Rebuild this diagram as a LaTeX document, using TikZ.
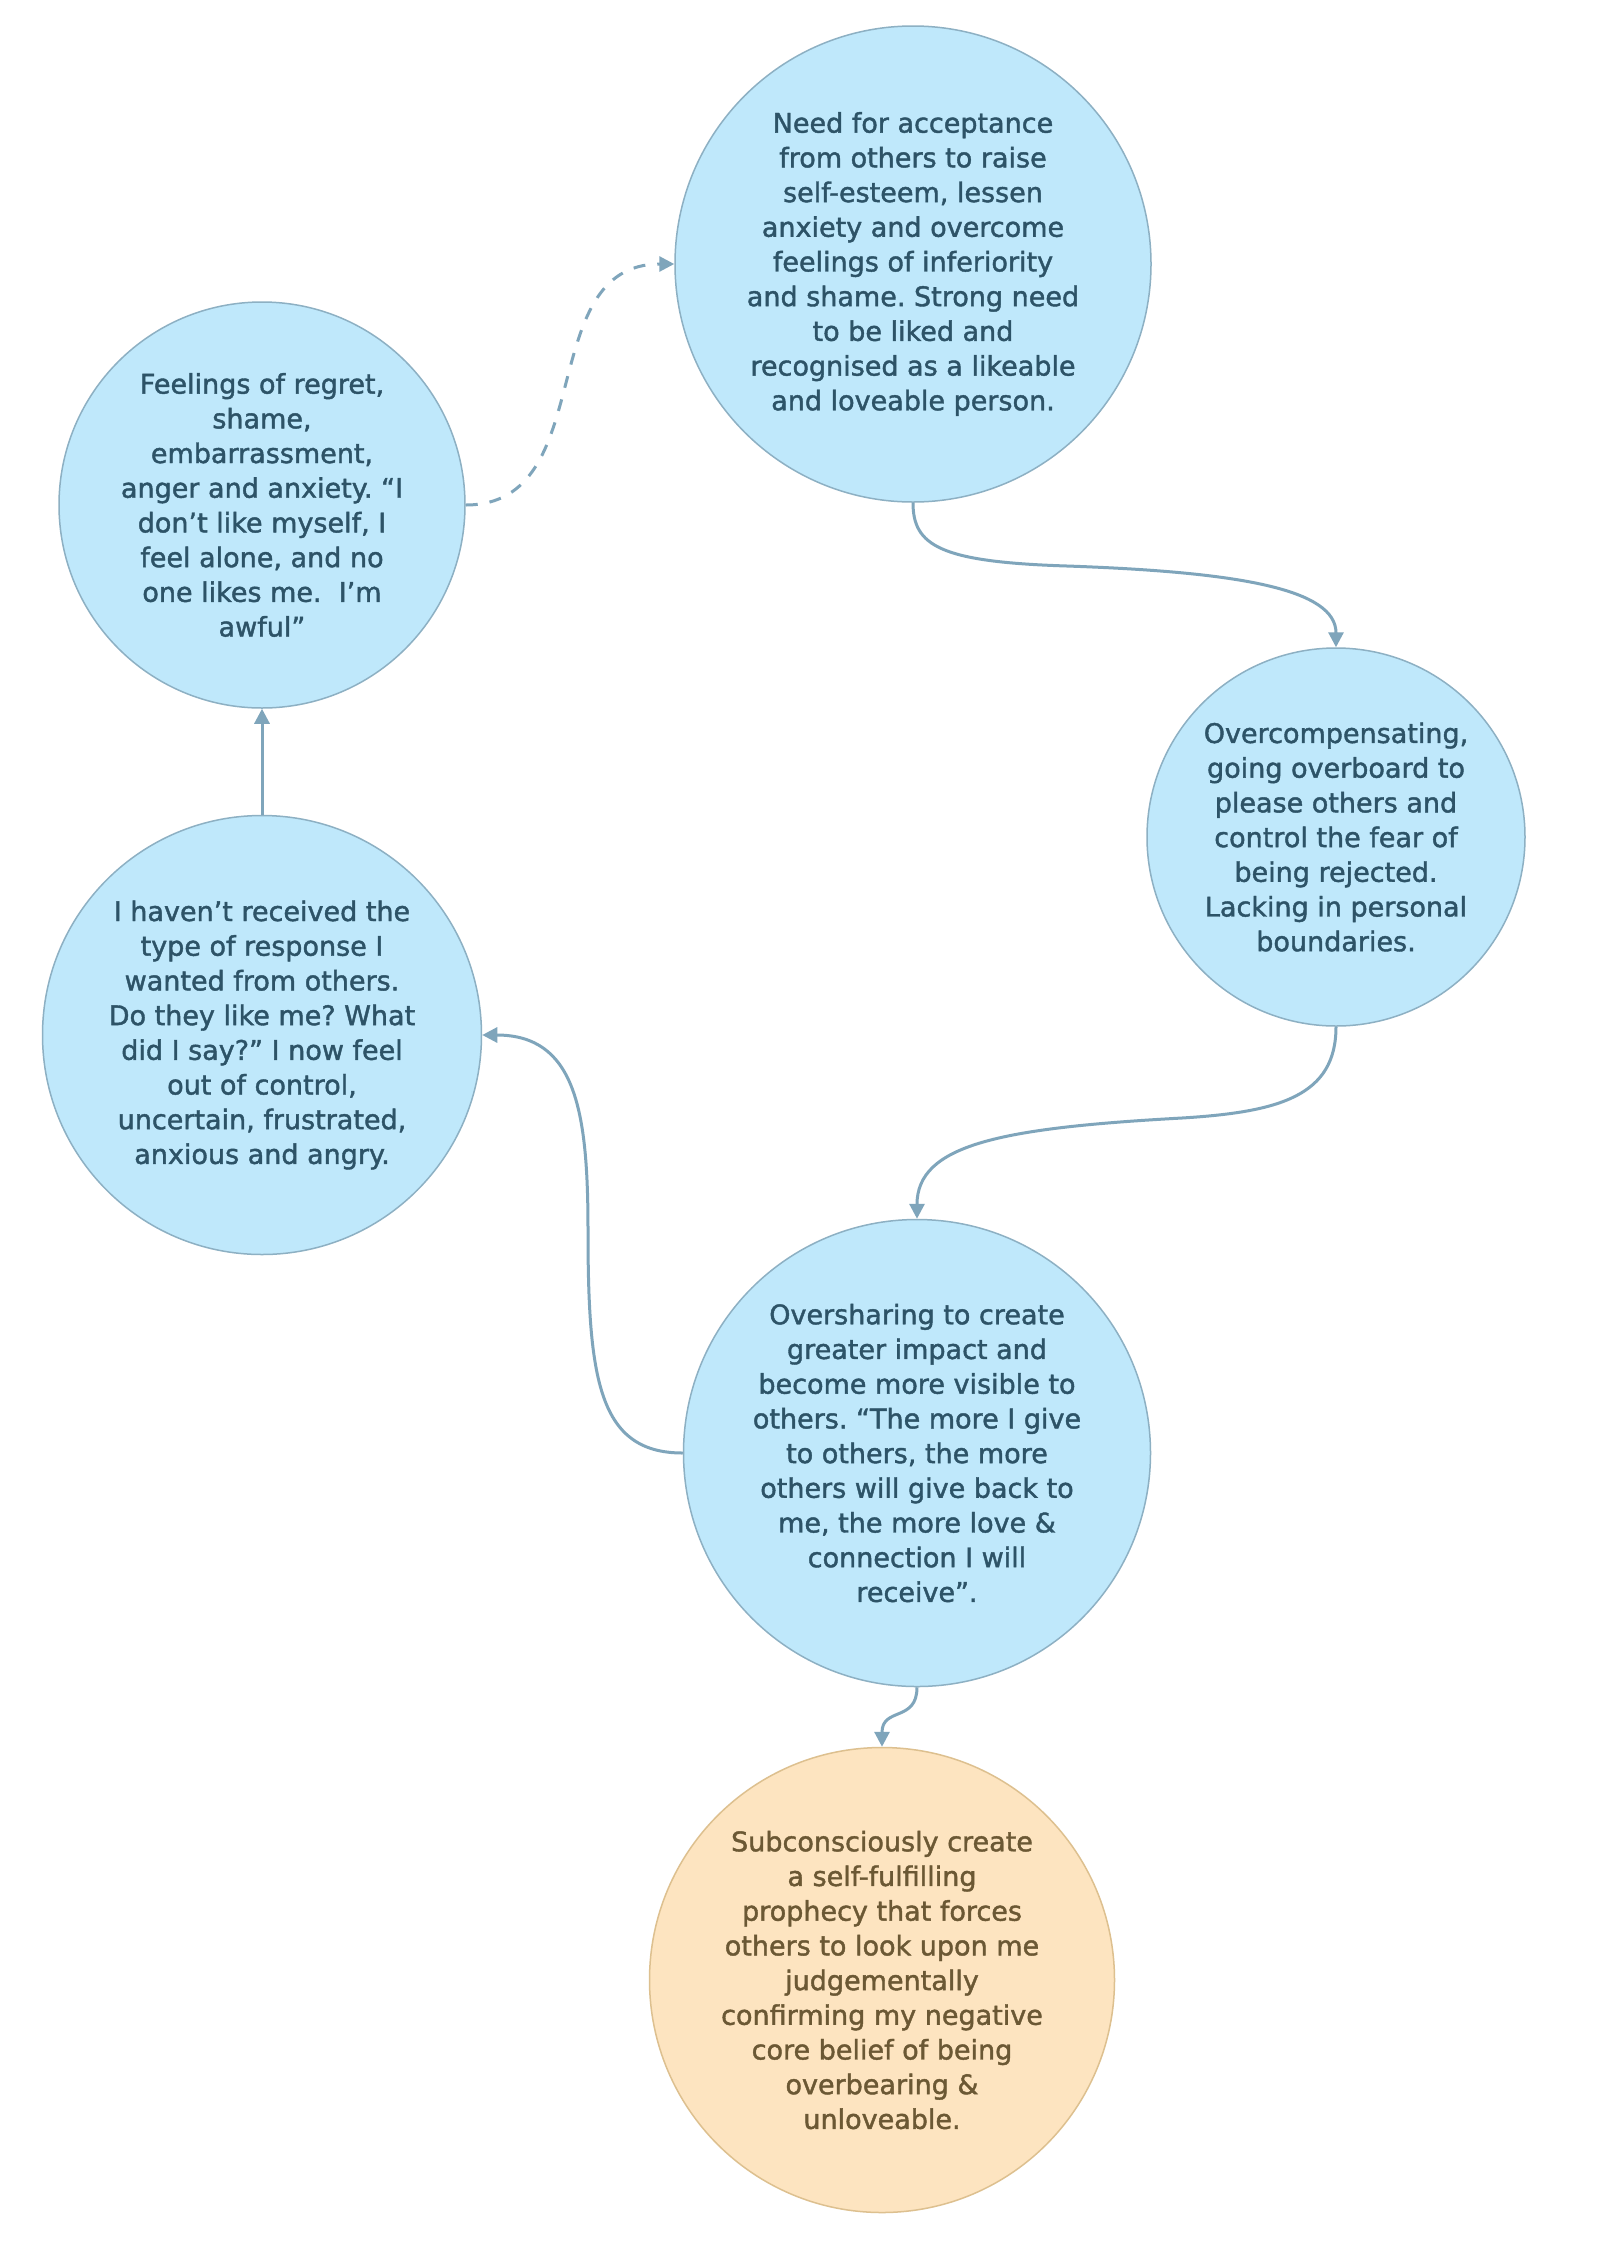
\documentclass[tikz,border=0pt]{standalone}
\usepackage{fontspec}
\setmainfont{DejaVu Sans}[FakeBold=1.5]
\usetikzlibrary{arrows.meta}
\definecolor{bfill}{HTML}{BFE8FB}
\definecolor{bdraw}{HTML}{8DB0C3}
\definecolor{btext}{HTML}{2D5367}
\definecolor{ofill}{HTML}{FDE4C0}
\definecolor{odraw}{HTML}{DDC08F}
\definecolor{otext}{HTML}{6B5834}
\definecolor{linkc}{HTML}{7FA5BB}
\tikzset{
  bubble/.style={circle, draw=bdraw, line width=1.5pt, fill=bfill, text=btext,
    align=center, inner sep=0pt, font=\fontsize{27}{34.7}\selectfont},
  obubble/.style={bubble, draw=odraw, fill=ofill, text=otext},
  linkline/.style={draw=linkc, line width=3pt, -{Triangle[length=15pt,width=15pt]}},
}
\frenchspacing
\begin{document}
\begin{tikzpicture}[x=1pt,y=-1pt]
\useasboundingbox (0,0) rectangle (1600,2260);
\fill[white] (0,0) rectangle (1600,2260);

\node[bubble, minimum size=476pt] (need) at (913,264)
 {Need for acceptance\\from others to raise\\self-esteem, lessen\\anxiety and overcome\\feelings of inferiority\\and shame. Strong need\\to be liked and\\recognised as a likeable\\and loveable person.};
\node[bubble, minimum size=406pt] (regret) at (262,505)
 {Feelings of regret,\\shame,\\embarrassment,\\anger and anxiety. “I\\don’t like myself, I\\feel alone, and no\\one likes me.\ \ I’m\\awful”};
\node[bubble, minimum size=378pt] (comp) at (1336,837)
 {Overcompensating,\\going overboard to\\please others and\\control the fear of\\being rejected.\\Lacking in personal\\boundaries.};
\node[bubble, minimum size=439pt] (hav) at (262,1035)
 {I haven’t received the\\type of response I\\wanted from others.\\Do they like me? What\\did I say?” I now feel\\out of control,\\uncertain, frustrated,\\anxious and angry.};
\node[bubble, minimum size=467pt] (share) at (917,1453)
 {Oversharing to create\\greater impact and\\become more visible to\\others. “The more I give\\to others, the more\\others will give back to\\me, the more love \&\\connection I will\\receive”.};
\node[obubble, minimum size=465pt] (sub) at (882,1980)
 {Subconsciously create\\a self-fulfilling\\prophecy that forces\\others to look upon me\\judgementally\\confirming my negative\\core belief of being\\overbearing \&\\unloveable.};

% dashed: regret -> need
\draw[linkline, dash pattern=on 12pt off 12pt]
  (regret.east) .. controls +(135,0) and +(-142,0) .. (need.west);
% need -> comp
\draw[linkline]
  (need.south) .. controls +(0,43) and (940,562) .. (1067,566)
  .. controls (1240,572) and +(0,-58) .. (comp.north);
% comp -> share
\draw[linkline]
  (comp.south) .. controls +(0,69) and (1280,1112) .. (1182,1118)
  .. controls (1000,1128) and +(0,-74) .. (share.north);
% share -> hav
\draw[linkline]
  (share.west) .. controls +(-84,0) and (588,1380) .. (588,1230)
  .. controls (588,1110) and +(93,0) .. (hav.east);
% hav -> regret
\draw[linkline] (hav.north) -- (regret.south);
% share -> sub
\draw[linkline]
  (share.south) .. controls +(0,35) and +(0,-40) .. (sub.north);
\end{tikzpicture}
\end{document}
